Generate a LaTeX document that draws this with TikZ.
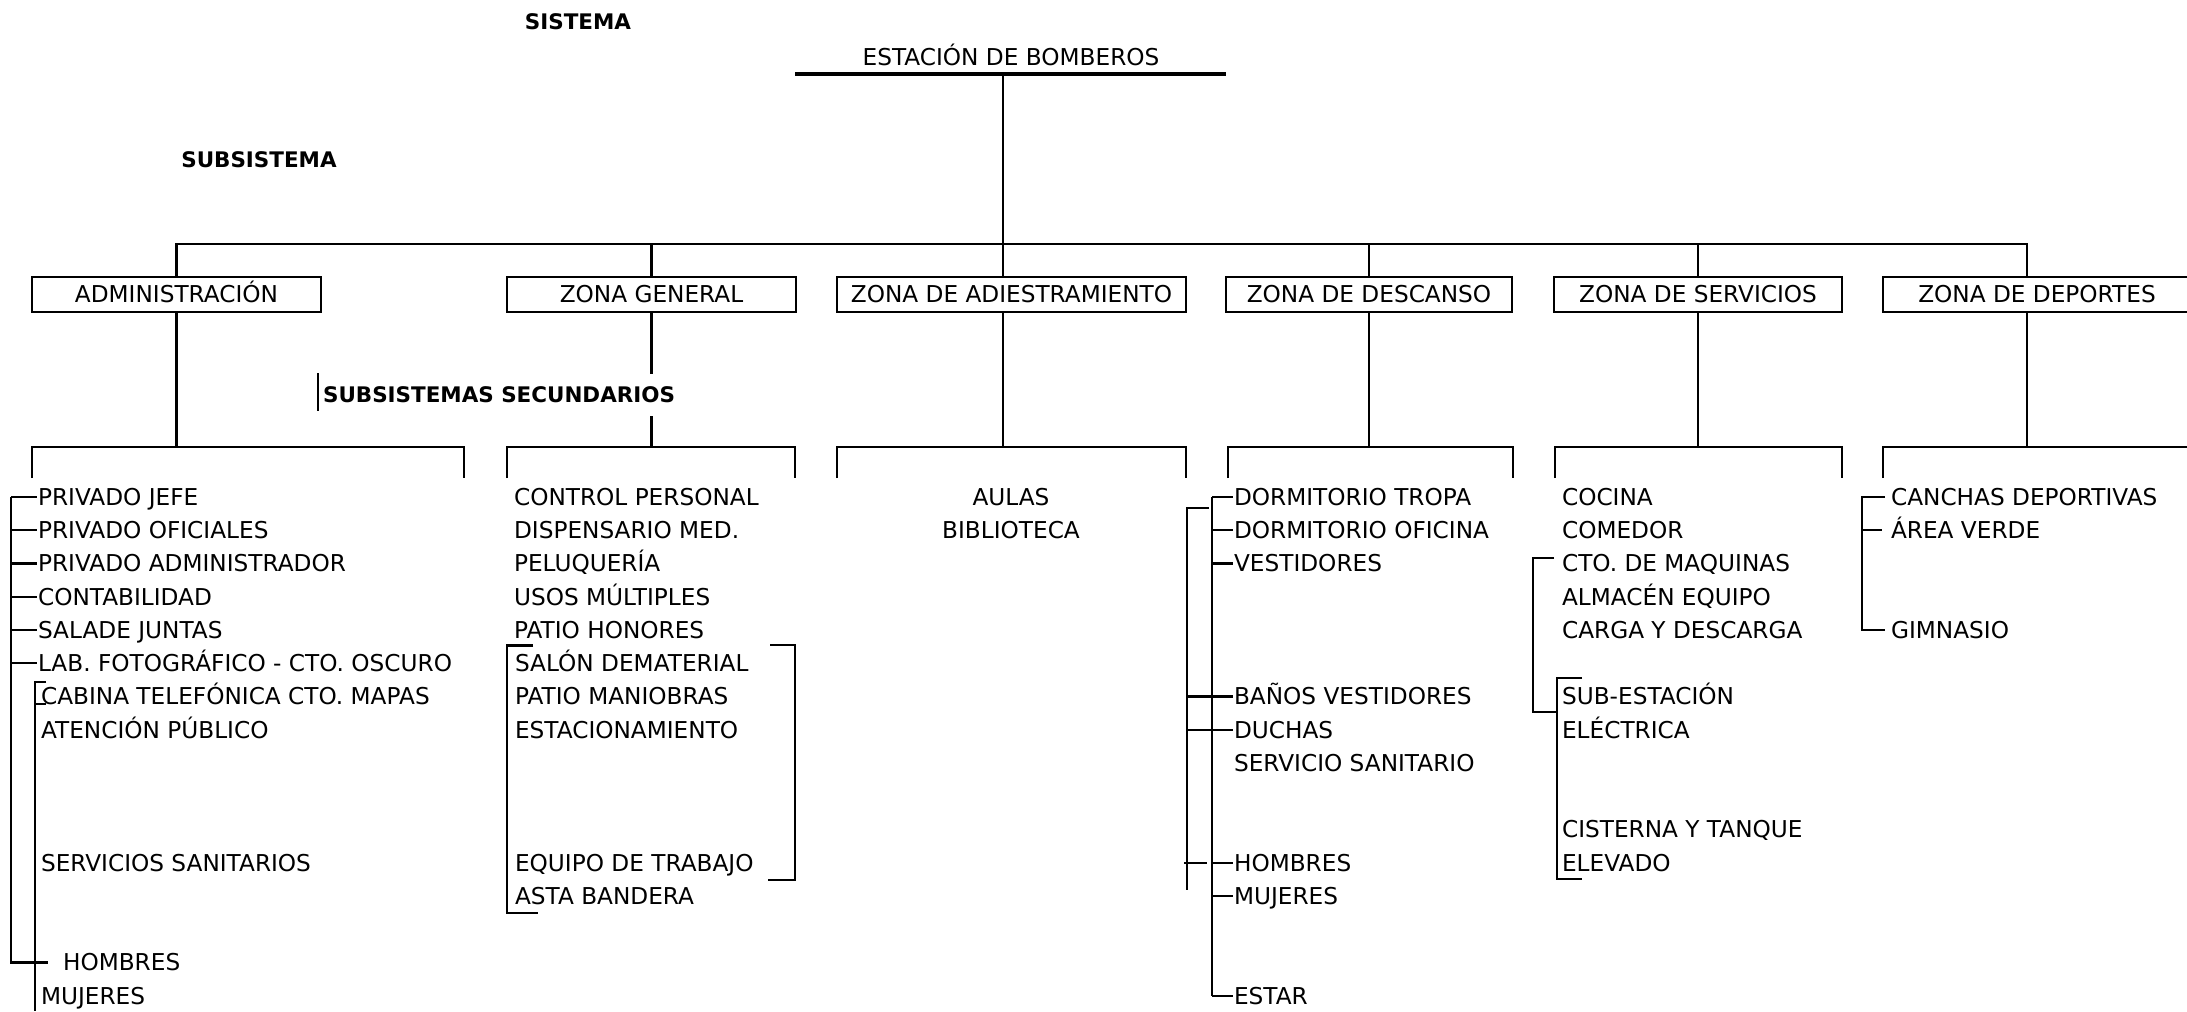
\documentclass[tikz,border=0pt]{standalone}
\usepackage{fontspec}
\setmainfont{DejaVu Sans}
\usepackage{tikz}
\usetikzlibrary{positioning, calc}

\tikzset{
  zone/.style={draw, minimum height=0.35cm, inner sep=0pt, text height=4.8pt, text depth=0pt,
               font=\fontsize{6.6}{8}\selectfont},
  item/.style={anchor=west, inner sep=0pt, text height=4.8pt, text depth=0pt,
               font=\fontsize{6.6}{8}\selectfont},
  tag/.style={inner sep=0pt, text height=4.4pt, text depth=0pt, font=\bfseries\fontsize{6.1}{7}\selectfont}
}

\begin{document}
\begin{tikzpicture}[x=0.01cm, y=-0.01cm, line width=0.6pt]
    \useasboundingbox (0,0) rectangle (2187,1011);

    % titles
    \node[tag] (sistema) at (578,22) {SISTEMA};
    \node[tag] (subsis) at (259,160) {SUBSISTEMA};
    \node[item, anchor=center] (estacion) at (1011,57) {ESTACIÓN DE BOMBEROS};
    \coordinate (estL) at (795,74);
    \coordinate (estR) at (1226,74);
    \draw[line width=0.9pt] (estL) -- (estR);

    % subsystems
    \node[zone, minimum width=2.89cm] (admin) at (176.5,294.5) {ADMINISTRACIÓN};
    \node[zone, minimum width=2.89cm] (general) at (651.5,294.5) {ZONA GENERAL};
    \node[zone, minimum width=3.49cm] (adiest) at (1011.5,294.5) {ZONA DE ADIESTRAMIENTO};
    \node[zone, minimum width=2.86cm] (descanso) at (1369,294.5) {ZONA DE DESCANSO};
    \node[zone, minimum width=2.88cm] (servicios) at (1698,294.5) {ZONA DE SERVICIOS};
    \node[zone, minimum width=3.08cm] (deportes) at (2037,294.5) {ZONA DE DEPORTES};

    \coordinate (root) at (1003,74);
    \coordinate (bus) at (0,244);
    \coordinate (brk) at (0,447);
    \coordinate (depx) at (2027,0);
    \draw (root) -- (root |- adiest.north);
    \draw (admin.north) |- (depx |- bus) -- (depx |- deportes.north);
    \draw (general.north) -- (general.north |- bus);
    \draw (descanso.north) -- (descanso.north |- bus);
    \draw (servicios.north) -- (servicios.north |- bus);

    \draw (admin.south) -- (admin.south |- brk);
    \draw (general.south) -- (general.south |- brk);
    \draw (root |- adiest.south) -- (root |- brk);
    \draw (descanso.south) -- (descanso.south |- brk);
    \draw (servicios.south) -- (servicios.south |- brk);
    \draw (depx |- deportes.south) -- (depx |- brk);

    \draw (32,478) |- (464,447) -- (464,478);
    \draw (507,478) |- (795,447) -- (795,478);
    \draw (837,478) |- (1186,447) -- (1186,478);
    \draw (1228,478) |- (1513,447) -- (1513,478);
    \draw (1555,478) |- (1842,447) -- (1842,478);
    \draw (1883,478) |- (2200,447);

    % secondary label
    \node[tag, anchor=west, fill=white, minimum width=3.45cm, minimum height=0.42cm,
          text depth=0pt, align=left] (secund) at (322,395) {SUBSISTEMAS SECUNDARIOS\hfill};
    \draw ($(secund.west)+(-4,-22)$) -- ($(secund.west)+(-4,16)$);

    % administracion
    \node[item] (a0) at (37,497) {PRIVADO JEFE};
    \node[item] (a1) at (37,530) {PRIVADO OFICIALES};
    \node[item] (a2) at (37,563.5) {PRIVADO ADMINISTRADOR};
    \node[item] (a3) at (37,597) {CONTABILIDAD};
    \node[item] (a4) at (37,630) {SALADE JUNTAS};
    \node[item] (a5) at (37,663) {LAB. FOTOGRÁFICO - CTO. OSCURO};
    \node[item] (a6) at (40,696.5) {CABINA TELEFÓNICA CTO. MAPAS};
    \node[item] (a7) at (40,730) {ATENCIÓN PÚBLICO};
    \node[item] (a11) at (40,863) {SERVICIOS SANITARIOS};
    \node[item] (a14) at (62,962.5) {HOMBRES};
    \node[item] (a15) at (40,996) {MUJERES};
    \coordinate (arail) at (11,0);
    \coordinate (abot) at (35,1011);
    \foreach \n in {a0,a1,a2,a3,a4,a5}
      \draw (arail |- \n.west) -- (\n.west);
    \draw (arail |- a0.west) -- (arail |- a14.west) -- ($(a14.west)+(-14,0)$);
    \draw ($(a6.west)+(6,-14.5)$) -| (abot);
    \draw ($(a6.west)+(-5,7.5)$) -- ($(a6.west)+(6,7.5)$);

    % zona general
    \node[item] (g0) at (513,497) {CONTROL PERSONAL};
    \node[item] (g1) at (513,530) {DISPENSARIO MED.};
    \node[item] (g2) at (513,563.5) {PELUQUERÍA};
    \node[item] (g3) at (513,597) {USOS MÚLTIPLES};
    \node[item] (g4) at (513,630) {PATIO HONORES};
    \node[item] (g5) at (514,663) {SALÓN DEMATERIAL};
    \node[item] (g6) at (514,696.5) {PATIO MANIOBRAS};
    \node[item] (g7) at (514,730) {ESTACIONAMIENTO};
    \node[item] (g11) at (514,863) {EQUIPO DE TRABAJO};
    \node[item] (g12) at (514,896) {ASTA BANDERA};
    \draw (533,645.5) -| (507,913) -- (538,913);
    \draw (770,645) -| (795,880) -- (768,880);

    % zona de adiestramiento
    \node[item, anchor=center] (t0) at (1011,497) {AULAS};
    \node[item, anchor=center] (t1) at (1011,530) {BIBLIOTECA};

    % zona de descanso
    \node[item] (d0) at (1233,497) {DORMITORIO TROPA};
    \node[item] (d1) at (1233,530) {DORMITORIO OFICINA};
    \node[item] (d2) at (1233,563.5) {VESTIDORES};
    \node[item] (d6) at (1233,696.5) {BAÑOS VESTIDORES};
    \node[item] (d7) at (1233,730) {DUCHAS};
    \node[item] (d8) at (1233,763) {SERVICIO SANITARIO};
    \node[item] (d11) at (1233,863) {HOMBRES};
    \node[item] (d12) at (1233,896) {MUJERES};
    \node[item] (d15) at (1233,996) {ESTAR};
    \coordinate (drail) at (1212,0);
    \coordinate (dout) at (1187,0);
    \foreach \n in {d0,d1,d2,d6,d7,d11,d12,d15}
      \draw (drail |- \n.west) -- (\n.west);
    \draw (drail |- d0.west) -- (drail |- d15.west);
    \draw (1209,508) -| (1187,890);
    \draw (dout |- d6.west) -- (drail |- d6.west);
    \draw (dout |- d7.west) -- (drail |- d7.west);
    \draw (1184,863) -- (1207,863);

    % zona de servicios
    \node[item] (s0) at (1561,497) {COCINA};
    \node[item] (s1) at (1561,530) {COMEDOR};
    \node[item] (s2) at (1561,563.5) {CTO. DE MAQUINAS};
    \node[item] (s3) at (1561,597) {ALMACÉN EQUIPO};
    \node[item] (s4) at (1561,630) {CARGA Y DESCARGA};
    \node[item] (s6) at (1561,696.5) {SUB-ESTACIÓN};
    \node[item] (s7) at (1561,730) {ELÉCTRICA};
    \node[item] (s10) at (1561,829.5) {CISTERNA Y TANQUE};
    \node[item] (s11) at (1561,863) {ELEVADO};
    \draw (1554,558) -| (1533,712) -- (1557,712);
    \draw (1582,678) -| (1557,879) -- (1582,879);

    % zona de deportes
    \node[item] (p0) at (1890,497) {CANCHAS DEPORTIVAS};
    \node[item] (p1) at (1890,530) {ÁREA VERDE};
    \node[item] (p4) at (1890,630) {GIMNASIO};
    \coordinate (prail) at (1862,0);
    \draw ($(p0.west)+(-5,0)$) -| (prail |- p4.west) -- ($(p4.west)+(-5,0)$);
    \draw (prail |- p1.west) -- ($(p1.west)+(-8,0)$);
\end{tikzpicture}
\end{document}
